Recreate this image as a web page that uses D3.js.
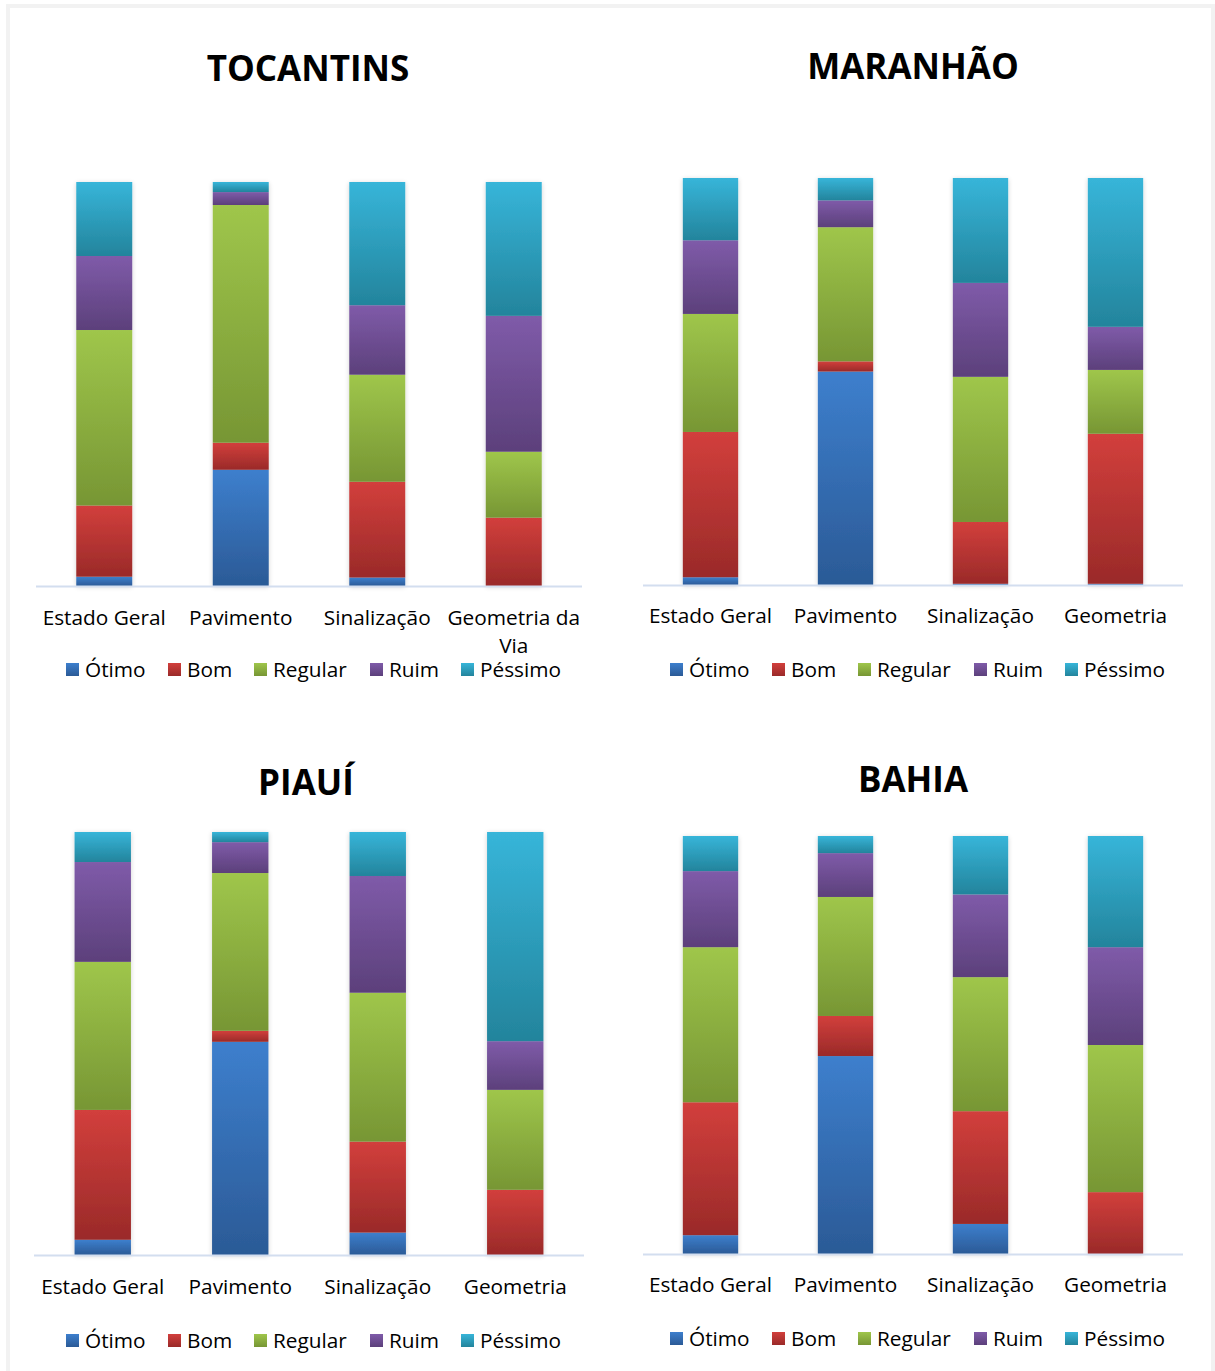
<!DOCTYPE html>
<meta charset="utf-8">
<style>
body { margin: 0; background: #fff; }
text { font-family: "Open Sans", "Noto Sans", sans-serif; fill: #000; }
.title { font-weight: bold; font-size: 35px; }
.cat { font-size: 20.8px; }
.leg { font-size: 20.8px; }
</style>
<script src="https://cdn.jsdelivr.net/npm/d3@7"></script>
<body>
<script>

var series = ["Ótimo", "Bom", "Regular", "Ruim", "Péssimo"];
var colTop = ["#3d7fcd", "#d23f3c", "#9fc64b", "#7f5ba9", "#37b5d9"];
var colBot = ["#2b5a96", "#9a2a29", "#779634", "#5c407b", "#23849c"];

var catsTocantins = ["Estado Geral", "Pavimento", "Sinalização", "Geometria da Via"];
var catsOther = ["Estado Geral", "Pavimento", "Sinalização", "Geometria"];

// percent per category: [Ótimo, Bom, Regular, Ruim, Péssimo]
var tocantins = [
  [2.3, 17.6, 43.4, 18.3, 18.3],
  [28.8, 6.7, 58.9, 3.2, 2.5],
  [2.1, 23.7, 26.5, 17.2, 30.5],
  [0, 16.9, 16.3, 33.6, 33.1]
];
var maranhao = [
  [1.9, 35.7, 29.0, 18.1, 15.3],
  [52.5, 2.5, 33.0, 6.6, 5.5],
  [0.3, 15.2, 35.7, 23.1, 25.8],
  [0.3, 36.9, 15.7, 10.6, 36.6]
];
var piaui = [
  [3.6, 30.7, 35.0, 23.6, 7.1],
  [50.4, 2.6, 37.3, 7.3, 2.4],
  [5.3, 21.5, 35.2, 27.6, 10.4],
  [0, 15.4, 23.6, 11.5, 49.4]
];
var bahia = [
  [4.5, 31.8, 37.1, 18.2, 8.4],
  [47.4, 9.6, 28.5, 10.5, 4.1],
  [7.2, 27.0, 32.1, 19.8, 14.0],
  [0, 14.8, 35.2, 23.4, 26.6]
];

var svg = d3.select("body").append("svg")
    .attr("width", 1215)
    .attr("height", 1371);

// frame
svg.append("rect")
    .attr("x", 8).attr("y", 6)
    .attr("width", 1205).attr("height", 1400)
    .attr("fill", "none")
    .attr("stroke", "#f2f2f2")
    .attr("stroke-width", 4);

var defs = svg.append("defs");
series.forEach(function(s, i) {
  var g = defs.append("linearGradient")
      .attr("id", "grad" + i)
      .attr("x1", 0).attr("y1", 0).attr("x2", 0).attr("y2", 1);
  g.append("stop").attr("offset", "0%").attr("stop-color", colTop[i]);
  g.append("stop").attr("offset", "100%").attr("stop-color", colBot[i]);
});

var shadow = defs.append("filter").attr("id", "shadow")
    .attr("x", "-30%").attr("y", "-5%").attr("width", "160%").attr("height", "110%");
shadow.append("feGaussianBlur").attr("in", "SourceAlpha").attr("stdDeviation", 2.5).attr("result", "b");
shadow.append("feOffset").attr("dy", 1).attr("result", "o");
shadow.append("feComponentTransfer").append("feFuncA").attr("type", "linear").attr("slope", 0.18);
var merge = shadow.append("feMerge");
merge.append("feMergeNode");
merge.append("feMergeNode").attr("in", "SourceGraphic");

var panels = [
  { title: "TOCANTINS", data: tocantins, cats: catsTocantins, x0: 36, x1: 582, top: 182, base: 586, tx: 308, ty: 81, catY: 625, legY: 677, legX: 66 },
  { title: "MARANHÃO", data: maranhao, cats: catsOther, x0: 643, x1: 1183, top: 178, base: 585, tx: 913, ty: 79, catY: 623, legY: 677, legX: 670 },
  { title: "PIAUÍ", data: piaui, cats: catsOther, x0: 34, x1: 584, top: 832, base: 1255, tx: 306, ty: 795, catY: 1294, legY: 1348, legX: 66 },
  { title: "BAHIA", data: bahia, cats: catsOther, x0: 643, x1: 1183, top: 836, base: 1254, tx: 913, ty: 792, catY: 1292, legY: 1346, legX: 670 }
];

var legOffsets = [0, 102, 188, 304, 395];

panels.forEach(function(p) {
  var g = svg.append("g");

  g.append("text").attr("class", "title")
      .attr("x", p.tx).attr("y", p.ty)
      .attr("text-anchor", "middle")
      .text(p.title);

  var x = d3.scaleBand()
      .domain(p.cats)
      .range([p.x0, p.x1])
      .paddingInner(0.59)
      .paddingOuter(0.295);

  var y = d3.scaleLinear()
      .domain([0, 100])
      .range([p.base, p.top]);

  var rows = p.data.map(function(d, i) {
    var o = { cat: p.cats[i] };
    series.forEach(function(s, j) { o[s] = d[j]; });
    return o;
  });

  var stack = d3.stack().keys(series).offset(d3.stackOffsetExpand);
  var layers = stack(rows);

  var bars = g.append("g").attr("filter", "url(#shadow)");
  bars.selectAll("g")
    .data(layers)
    .enter().append("g")
      .attr("fill", function(d, i) { return "url(#grad" + i + ")"; })
    .selectAll("rect")
    .data(function(d) { return d; })
    .enter().append("rect")
      .attr("x", function(d) { return x(d.data.cat); })
      .attr("width", x.bandwidth())
      .attr("y", function(d) { return y(d[1] * 100); })
      .attr("height", function(d) { return Math.max(0, y(d[0] * 100) - y(d[1] * 100)); });

  // axis baseline
  g.append("line")
      .attr("x1", p.x0).attr("x2", p.x1)
      .attr("y1", p.base + 0.5).attr("y2", p.base + 0.5)
      .attr("stroke", "#d3deef")
      .attr("stroke-width", 2);

  // category labels
  g.selectAll(".cat")
    .data(p.cats)
    .enter().append("text")
      .attr("class", "cat")
      .attr("text-anchor", "middle")
      .attr("x", function(d) { return x(d) + x.bandwidth() / 2; })
      .attr("y", p.catY)
      .each(function(d) {
        var t = d3.select(this);
        if (d === "Geometria da Via") {
          t.append("tspan").attr("x", x(d) + x.bandwidth() / 2).text("Geometria da");
          t.append("tspan").attr("x", x(d) + x.bandwidth() / 2).attr("dy", 28).text("Via");
        } else {
          t.text(d);
        }
      });

  // legend
  var leg = g.selectAll(".legitem")
    .data(series)
    .enter().append("g")
      .attr("transform", function(d, i) { return "translate(" + (p.legX + legOffsets[i]) + "," + p.legY + ")"; });
  leg.append("rect")
      .attr("x", 0).attr("y", -14)
      .attr("width", 13).attr("height", 13)
      .attr("fill", function(d, i) { return "url(#grad" + i + ")"; });
  leg.append("text")
      .attr("class", "leg")
      .attr("x", 19).attr("y", 0)
      .text(function(d) { return d; });
});

</script>
</body>
